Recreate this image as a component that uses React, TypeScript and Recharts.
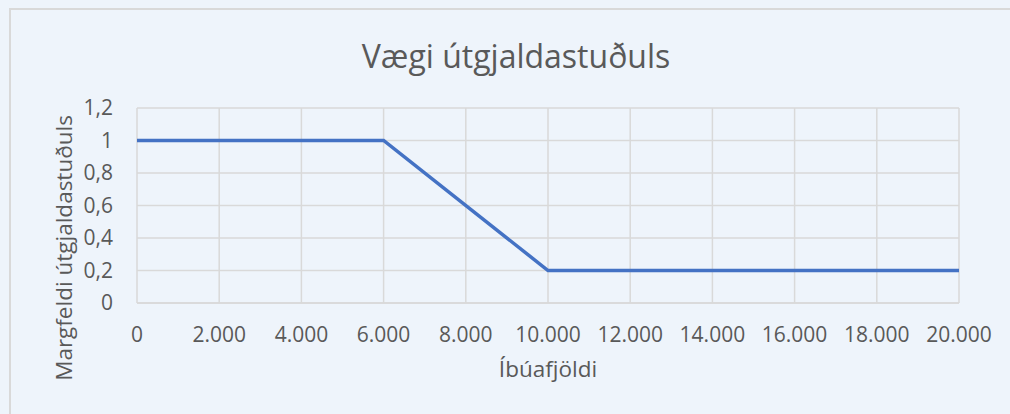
import { LineChart, Line, XAxis, YAxis, CartesianGrid, Label } from 'recharts'

const population = [0, 6000, 10000, 20000]
const multiplier = [1, 1, 0.2, 0.2]
const xTicks = [0, 2000, 4000, 6000, 8000, 10000, 12000, 14000, 16000, 18000, 20000]
const yTicks = [0, 0.2, 0.4, 0.6, 0.8, 1, 1.2]

const title = 'Vægi útgjaldastuðuls'
const xTitle = 'Íbúafjöldi'
const yTitle = 'Margfeldi útgjaldastuðuls'

const font = '"Open Sans", sans-serif'
const textColor = '#595959'
const gridColor = '#d9d9d9'

function formatThousands(v: number) {
  return String(v).replace(/\B(?=(\d{3})+(?!\d))/g, '.')
}

function formatDecimal(v: number) {
  return String(Number(v.toFixed(1))).replace('.', ',')
}

export default function App() {
  const data = population.map((p, i) => ({ x: p, y: multiplier[i] }))

  return (
    <div
      style={{
        position: 'absolute',
        left: 0,
        top: 0,
        width: 1010,
        height: 414,
        overflow: 'hidden',
        background: '#eef4fb',
        fontFamily: font
      }}
    >
      <div
        style={{
          position: 'absolute',
          left: 9,
          top: 8,
          width: 1040,
          height: 440,
          border: `2px solid ${gridColor}`
        }}
      />
      <div
        style={{
          position: 'absolute',
          left: 0,
          top: 34,
          width: 1032,
          textAlign: 'center',
          fontSize: 32,
          color: textColor,
          lineHeight: '44px'
        }}
      >
        {title}
      </div>
      <div style={{ position: 'absolute', left: 0, top: 0 }}>
        <LineChart
          width={1010}
          height={414}
          data={data}
          margin={{ top: 108, right: 51, bottom: 0, left: 60 }}
        >
          <CartesianGrid stroke={gridColor} strokeWidth={1.5} />
          <XAxis
            dataKey="x"
            type="number"
            domain={[0, 20000]}
            ticks={xTicks}
            interval={0}
            height={111}
            tickFormatter={formatThousands}
            tickLine={false}
            tickMargin={18}
            axisLine={{ stroke: gridColor, strokeWidth: 1.5 }}
            tick={{ fill: textColor, fontSize: 21, fontFamily: font }}
          >
            <Label
              value={xTitle}
              position="insideBottom"
              offset={37}
              fill={textColor}
              fontSize={22.5}
              fontFamily={font}
            />
          </XAxis>
          <YAxis
            type="number"
            domain={[0, 1.2]}
            ticks={yTicks}
            interval={0}
            width={77}
            tickFormatter={formatDecimal}
            tickLine={false}
            tickMargin={18}
            axisLine={false}
            tick={{ fill: textColor, fontSize: 21, fontFamily: font }}
          >
            <Label
              content={({ viewBox }: any) => {
                const cx = viewBox.x + 12
                const cy = 248
                return (
                  <text
                    x={cx}
                    y={cy}
                    transform={`rotate(-90, ${cx}, ${cy})`}
                    textAnchor="middle"
                    fill={textColor}
                    fontSize={22.5}
                    fontFamily={font}
                  >
                    {yTitle}
                  </text>
                )
              }}
            />
          </YAxis>
          <Line
            type="linear"
            dataKey="y"
            stroke="#4472c4"
            strokeWidth={3.5}
            dot={false}
            isAnimationActive={false}
          />
        </LineChart>
      </div>
    </div>
  )
}
